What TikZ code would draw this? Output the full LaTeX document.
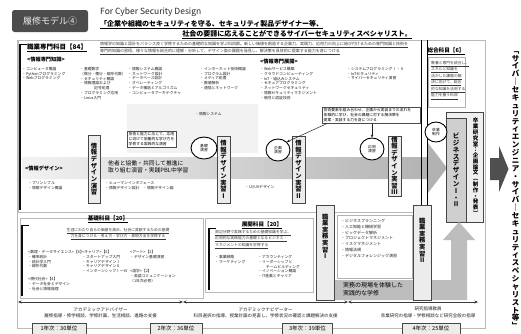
\documentclass[tikz,border=0pt]{standalone}
\usepackage{fontspec}
\setmainfont{Noto Sans CJK JP}
\usetikzlibrary{arrows.meta,positioning,shapes.geometric,calc}

% vertical (tategaki) text: one character per line
\def\vtxtend{\relax}
\newcommand\vtxt[1]{\vbox{\offinterlineskip\vtxtloop#1\vtxtend}}
\def\vtxtloop#1{\ifx#1\vtxtend\else\hbox to 1.1em{\hss\vrule height .92em depth .13em width 0pt\relax#1\hss}\expandafter\vtxtloop\fi}

\begin{document}
\begin{tikzpicture}[x=1pt, y=-1pt,
    tiny/.style={font=\fontsize{3.8}{4.8}\selectfont, inner sep=0pt, anchor=north west, align=left, text=gray!25!black},
    hd/.style={font=\fontsize{5.6}{6}\selectfont\bfseries, inner sep=0pt},
    vbar/.style={draw=gray!55!black, fill=gray!15, inner sep=0pt},
    vlab/.style={font=\fontsize{6.3}{7}\selectfont\bfseries, inner sep=0pt, text=gray!10!black},
    ring/.style={ellipse, draw, line width=0.9pt, fill=white, inner sep=0pt, minimum width=26pt, minimum height=22pt, font=\fontsize{3.8}{4.6}\selectfont, align=center},
    note/.style={draw=gray!60!black, fill=white, inner sep=1.5pt, font=\fontsize{3.8}{4.8}\selectfont, align=left, anchor=north west},
    frame/.style={draw=gray!55, line width=0.4pt},
    bracket/.style={line width=1.6pt, gray!10!black},
    yearbox/.style={draw=gray!55!black, fill=gray!15, minimum height=11pt, inner sep=0pt, font=\fontsize{5.5}{6}\selectfont},
    tip/.style={-{Stealth[length=3pt,width=2.5pt]}, gray!25!black, line width=0.5pt},
    nav/.style={{Stealth[length=3.5pt,width=3pt]}-{Stealth[length=3.5pt,width=3pt]}, line width=0.8pt, gray!45!black}
  ]
  \useasboundingbox (0,0) rectangle (521,333);
  \fill[white] (0,0) rectangle (521,333);

  % Title
  \node[fill=gray!60!black, rounded corners=2.5pt, minimum width=76pt, minimum height=22pt,
        text=gray!15, font=\fontsize{9}{10}\selectfont] (ttl) at (50,21) {履修モデル④};
  \node[anchor=west, inner sep=0pt, font=\fontsize{8.5}{9}\selectfont, text=gray!30!black] (eng) at (100,12) {For Cyber Security Design};
  \node[anchor=west, inner sep=0pt, font=\fontsize{7}{8}\selectfont\bfseries] (aim1) at (100,24) {「企業や組織のセキュリティを守る、セキュリティ製品デザイナー等、};
  \node[anchor=east, inner sep=0pt, font=\fontsize{7}{8}\selectfont\bfseries] (aim2) at (412,34) {社会の要請に応えることができるサイバーセキュリティスペシャリスト。};
  \draw[line width=0.5pt] ([yshift=-1.2pt]aim1.base west) -- ([yshift=-1.2pt]aim1.base east);
  \draw[line width=0.5pt] ([yshift=-1.2pt]aim2.base west) -- ([yshift=-1.2pt]aim2.base east);

  % Frames
  \draw[frame] (17,40) rectangle (485,328);
  \draw[frame] (18,40) rectangle (421,212);
  \draw[bracket] (20,44) -- (20,210);
  \draw (20,44) -- (27,44);
  \fill[gray!10] (127,104) rectangle (258,153);

  % Professional subjects
  \node[hd, anchor=west, font=\fontsize{6.5}{7}\selectfont\bfseries] (prof) at (27,48) {\underline{職業専門科目【84】}};
  \node[tiny, font=\fontsize{4}{5.4}\selectfont, text=gray!45!black] (profdsc) at (100,42)
    {\underline{情報学の知識と設計をバランス良く学修するための基礎的な知識を学ぶ科目群。新しい価値を創造する企画力、実践力、応用力の向上に結び付けるための専門知識と技術を}\\
     \underline{専門的知識の習得、様々な情報を総合的に理解・分析して、デザイン面の課題を発見し、解決策を具体的に提案する能力を身につける}};
  \node[hd, anchor=west, font=\fontsize{5.2}{6}\selectfont\bfseries] (knw) at (27,60) {<情報専門知識>};
  \node[tiny] (knw1) at (22,67) {・コンピュータ概論\\・Pythonプログラミング\\・Webプログラミング};
  \node[tiny] (knw2) at (80,67) {・基礎数学\\（微分・積分・線形代数）\\・セキュリティ概論\\・情報理論および\\\hspace*{14pt}記号処理\\・プログラミング応用\\・Linux入門};
  \node[tiny] (knw3) at (128,67) {・情報システム概論\\・ネットワーク設計\\・データベース設計\\・オペレーティング\\・データ構造とアルゴリズム\\・コンピュータアーキテクチャ};
  \node[tiny] (knw4) at (200,67) {・インターネット技術概論\\・プログラム設計\\・メディア処理\\・数値解析\\・通信とネットワーク};
  \node[hd, anchor=west, font=\fontsize{5.2}{6}\selectfont\bfseries] (dev) at (260,62) {<情報専門展開>};
  \node[tiny] (dev1) at (260,67) {・Webサービス構築\\・クラウドコンピューティング\\・IoT・組込みシステム\\・セキュアプログラミング\\・ネットワークセキュリティ\\・情報セキュリティマネジメント\\・暗号と認証技術};
  \node[tiny] (dev2) at (347,67) {・システムプログラミングⅠ・Ⅱ\\・IoTセキュリティ\\・サイバーセキュリティ演習};
  \node[tiny] (sys) at (195,112) {・情報システム};

  % Design band
  \shade[left color=gray!10, right color=gray!62] (22,157) -- (428,157) -- (428,143) -- (447,168)
        -- (428,193) -- (428,179) -- (22,179) -- cycle;
  \node[hd, anchor=west, font=\fontsize{5.2}{6}\selectfont\bfseries] (dsg) at (25,168) {<情報デザイン>};
  \node[tiny, font=\fontsize{5.8}{7.6}\selectfont, text=black] (pbl) at (108,160) {他者と協働・共同して推進に\\取り組む演習・実践PBL中学習};
  \node[tiny] (dsg1) at (28,181) {・プリンシプル\\・情報デザイン概論};
  \node[tiny] (dsg2) at (105,181) {・ヒューマンインタフェース\\・情報デザイン設計\quad ・情報デザイン論};
  \node[tiny] (dsg3) at (245,185) {・UI/UXデザイン};

  % Exercises
  \node[vbar, minimum width=12pt, minimum height=68pt] (ex0) at (94,169) {};
  \node[vlab] at (ex0) {\vtxt{情報デザイン演習}};
  \node[vbar, minimum width=13pt, minimum height=67pt] (pr1) at (223.5,169.5) {};
  \node[vlab] at (pr1) {\vtxt{情報デザイン実習Ⅰ}};
  \node[vbar, minimum width=13pt, minimum height=67pt] (pr2) at (298.5,169.5) {};
  \node[vlab] at (pr2) {\vtxt{情報デザイン実習Ⅱ}};
  \node[vbar, minimum width=13pt, minimum height=60pt] (pr3) at (394.5,166) {};
  \node[vlab] at (pr3) {\vtxt{情報デザイン実習Ⅲ}};

  \node[note] (nta) at (127,131) {技術と能力に応じて、応用\\に向けて協働的な学び方を\\学修する実践的な演習};
  \node[ring] (rg1) at (204,148) {基礎\\演習};
  \node[ring, minimum width=24pt] (rg2) at (278,150) {企画\\演習};
  \node[ring, minimum width=24pt] (rg3) at (372,149) {応用\\演習};
  \node[note, text width=95pt] (ntb) at (322,107) {技術要素を組み合わせ、企画から実装までの流れを\\体験的に学び、社会の課題に対する解決策を\\提案・実装する力を身につける};
  \draw[tip] (ntb.south west) ++(5,0) coordinate (ntb1) -- (rg2.north east);
  \draw[tip] (rg3.north |- ntb.south) -- (rg3.north);

  % General subjects
  \draw[line width=0.9pt] (421,40) -- (421,205);
  \draw[line width=0.6pt] (427,40) -- (427,205);
  \node[hd] (gen) at (446,51) {\underline{総合科目【6】}};
  \node[draw=gray!60, inner sep=0pt, minimum width=37pt, minimum height=50pt, anchor=north west] (genbox) at (428,57) {};
  \node[tiny, text=gray!45!black] (gendsc) at (431,61) {\underline{教養と専門を統合し、}\\\underline{スキルと知識を}\\\underline{活かした課題の解}\\\underline{決に向けて、総合}\\\underline{的な知識を活用する}\\\underline{能力を養う科目}};
  \node[draw=gray!55!black, fill=gray!12, minimum width=37pt, minimum height=110pt, anchor=north west, inner sep=0pt] (grd) at (446,112) {};
  \node[font=\fontsize{5.5}{6}\selectfont\bfseries, inner sep=0pt] (grdt) at (475.5,167) {\vtxt{卒業研究室：企画論文︵制作・発表︶}};
  \node[vbar, fill=gray!38, minimum width=20pt, minimum height=104pt, anchor=north west] (biz) at (446,118) {};
  \node[vlab, font=\fontsize{6.5}{7}\selectfont\bfseries] at (biz) {\vtxt{ビジネスデザインⅠ・Ⅱ}};
  \node[ring, minimum width=22pt, minimum height=20pt] (rg4) at (436,132) {卒業\\制作};

  % Foundation subjects
  \draw[frame] (20,218) rectangle (203,298);
  \draw[bracket] (22,225) -- (22,296);
  \draw (22,225) -- (29,225);
  \node[hd] (bas) at (108,219) {\underline{基礎科目【20】}};
  \node[tiny, anchor=north, align=center, text=gray!45!black] (basdsc) at (118,228) {\underline{生涯にわたり自らの価値を高め、社会に貢献するための基礎}\\\underline{力を身につける・考え方・学び方・表現方法を学修する}};
  \node[tiny] (bas1) at (28,250) {<数理・データサイエンス>【6】\\・確率統計\\・統計学入門\\・線形代数};
  \node[tiny] (bas2) at (28,277) {<現代社会>【4】\\・データ社会とデザイン\\・社会と情報倫理};
  \node[tiny] (bas3) at (82,250) {<キャリア>【6】\\・スタートアップ入門\\・キャリアデザインⅠ\\・キャリアデザインⅡ\\・インターンシップⅠ〜Ⅳ};
  \node[tiny] (bas4) at (130,250) {<アート>【2】\\・デザイン基礎演習};
  \node[tiny] (bas5) at (130,269) {<語学>【2】\\・英語コミュニケーション\\（1年次必修）};

  % Development subjects
  \draw[frame] (205,218) rectangle (313,292);
  \draw[bracket] (209,228) -- (209,290);
  \draw (209,228) -- (216,228);
  \node[hd] (ext) at (262,225) {\underline{展開科目【20】}};
  \node[tiny, text=gray!45!black] (extdsc) at (215,230) {\underline{周辺分野で実践するための基礎知識を学ぶ、}\\\underline{応用的な実践能力の基礎となるビジネス・}\\\underline{マネジメントの知識を学修する}};
  \node[tiny] (ext1) at (215,255) {・事業戦略\\・マーケティング};
  \node[tiny] (ext2) at (258,255) {・アカウンティング\\・リーダーシップと\\\hspace*{8pt}チームビルディング\\・イノベーション概論\\・IT産業とキャリア};

  % Work practice
  \fill[gray!52] (335,280) -- (451,280) -- (451,240) -- (443,240) -- (459,222) -- (475,240)
        -- (467,240) -- (467,300) -- (335,300) -- cycle;
  \node[tiny, font=\fontsize{6}{8}\selectfont, text=black] (wrk) at (343,282) {実務の現場を体験した\\実践的な学修};
  \node[draw=gray!60, fill=white, minimum width=75pt, minimum height=63pt, anchor=north west, inner sep=0pt] (wbox) at (337,215) {};
  \node[tiny, font=\fontsize{4}{5.8}\selectfont] (wlist) at (341,219) {・ビジネスプランニング\\・人工知能と機械学習\\・ビッグデータ解析\\・プロジェクトマネジメント\\・リスクマネジメント\\・情報法規\\・デジタルフォレンジック演習};
  \node[vbar, minimum width=18pt, minimum height=95pt, anchor=north west] (jm1) at (316,205) {};
  \node[vlab, anchor=north] at ([yshift=-8pt]jm1.north) {\vtxt{職業実務実習Ⅰ}};
  \node[vbar, minimum width=18pt, minimum height=95pt, anchor=north west] (jm2) at (413,205) {};
  \node[vlab, anchor=north] at ([yshift=-12pt]jm2.north) {\vtxt{職業実務実習Ⅱ}};

  % Advisers
  \coordinate (n0) at (18,302);
  \coordinate (n1) at (183,302);
  \coordinate (n2) at (348,302);
  \coordinate (n3) at (478,302);
  \draw[nav] (n0) -- (n1);
  \draw[nav] (n1) -- (n2);
  \draw[nav] (n2) -- (n3);
  \node[tiny, anchor=north, align=center, font=\fontsize{4.5}{6.5}\selectfont] (adv1) at ($(n0)!0.5!(n1)+(0,5)$) {アカデミックアドバイザー\\履修指導・修学相談、学修計画、生活相談、進路の支援};
  \node[tiny, anchor=north, align=center, font=\fontsize{4.5}{6.5}\selectfont] (adv2) at ($(n1)!0.5!(n2)+(0,5)$) {アカデミックナビゲーター\\科目選択の指導、授業計画の見直し、学修状況の確認と課題解決の支援};
  \node[tiny, anchor=north, align=center, font=\fontsize{4.5}{6.5}\selectfont] (adv3) at ($(n2)!0.5!(n3)+(15,5)$) {研究指導教員\\卒業研究の指導・学修相談など研究全般の指導};

  % Years
  \node[yearbox, minimum width=54pt] (y1) at (59,328.5) {1年次：30単位};
  \node[yearbox, minimum width=52pt] (y2) at (176,328.5) {2年次：36単位};
  \node[yearbox, minimum width=50pt] (y3) at (307.5,328.5) {3年次：39単位};
  \node[yearbox, minimum width=58pt] (y4) at (431,328.5) {4年次：25単位};

  % Career goal
  \fill[gray!62!black] (490,158) -- (499,158) -- (499,146) -- (508.5,169) -- (499,192) -- (499,180) -- (490,180) -- cycle;
  \node[font=\fontsize{7.5}{8}\selectfont\bfseries, inner sep=0pt] (goal) at (515.5,188) {\vtxt{﹁サイバ｜セキュリティエンジニア・サイバ｜セキュリティスペシャリスト等﹂}};
\end{tikzpicture}
\end{document}
